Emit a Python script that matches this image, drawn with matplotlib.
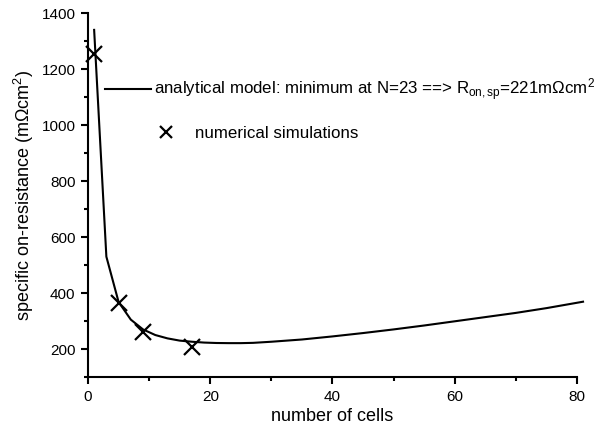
import matplotlib
matplotlib.use("Agg")
import matplotlib.pyplot as plt
from matplotlib.ticker import MultipleLocator

plt.rcParams['font.family'] = ['Liberation Sans', 'DejaVu Sans']
plt.rcParams['mathtext.fontset'] = 'custom'
plt.rcParams['mathtext.rm'] = 'Liberation Sans'
plt.rcParams['mathtext.it'] = 'Liberation Sans'

# analytical model curve
model_n = [1, 3, 5, 7, 9, 11, 13, 15, 17, 19, 21, 23, 25, 27, 30, 35, 40, 45,
           50, 55, 60, 65, 70, 75, 81]
model_r = [1340, 530, 368, 305, 270, 250, 238, 230, 226, 223, 221.5, 221, 221,
           222, 226, 234, 245, 257, 270, 284, 299, 314, 329, 346, 369]

# numerical simulations
sim_n = [1, 5, 9, 17]
sim_r = [1255, 365, 261, 207]

xticks = [0, 20, 40, 60, 80]
yticks = [200, 400, 600, 800, 1000, 1200, 1400]

fig = plt.figure(figsize=(5.96, 4.36), dpi=100)
ax = fig.add_axes([0.1477, 0.1353, 0.8203, 0.8347])

line, = ax.plot(model_n, model_r, color='black', lw=1.5, clip_on=False)
pts, = ax.plot(sim_n, sim_r, linestyle='none', marker='x', color='black',
               markersize=12, markeredgewidth=1.6, clip_on=False)

ax.set_xlim(0, 80)
ax.set_ylim(100, 1400)
ax.set_xticks(xticks)
ax.set_yticks(yticks)
ax.xaxis.set_minor_locator(MultipleLocator(10))
ax.yaxis.set_minor_locator(MultipleLocator(100))

for s in ['top', 'right']:
    ax.spines[s].set_visible(False)
for s in ['left', 'bottom']:
    ax.spines[s].set_linewidth(1.5)

ax.tick_params(which='major', direction='out', length=5, width=1.5,
               labelsize=11, pad=4)
ax.tick_params(which='minor', direction='out', length=3, width=1.5)

ax.set_xlabel("number of cells", fontsize=13, labelpad=3)
ax.set_ylabel("specific on-resistance (mΩcm$^{\\mathregular{2}}$)", fontsize=13, labelpad=4)

lab1 = r"analytical model: minimum at N=23 ==> R$_{\mathregular{on,sp}}$=221mΩcm$^{\mathregular{2}}$"
lab2 = "numerical simulations"

leg1 = ax.legend([line], [lab1], loc='center left',
                 bbox_to_anchor=(105 / 596, 1 - 90 / 436),
                 bbox_transform=fig.transFigure, frameon=False,
                 fontsize=12.2, handlelength=2.7, handletextpad=0.2,
                 borderpad=0, borderaxespad=0)
ax.add_artist(leg1)
leg2 = ax.legend([pts], [lab2], loc='center left',
                 bbox_to_anchor=(156 / 596, 1 - 133 / 436),
                 bbox_transform=fig.transFigure, frameon=False,
                 fontsize=12.2, handlelength=1.2, handletextpad=1.1,
                 borderpad=0, borderaxespad=0, markerscale=0.75)

fig.savefig("out.png", dpi=100)
